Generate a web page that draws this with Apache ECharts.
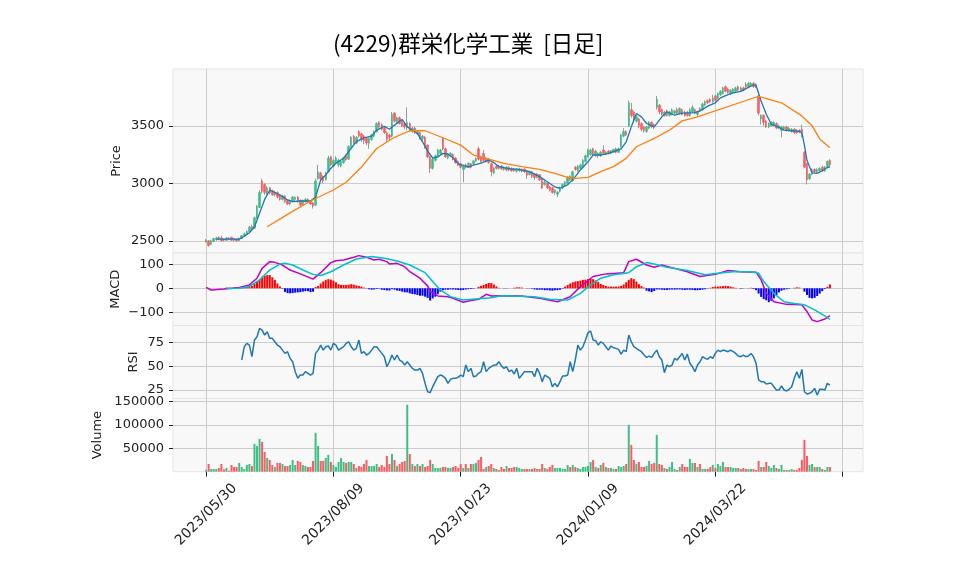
<!DOCTYPE html>
<html>
<head>
<meta charset="utf-8">
<title>(4229)群栄化学工業 [日足]</title>
<script src="https://cdn.jsdelivr.net/npm/echarts@6/dist/echarts.min.js"></script>
<style>
  html, body { margin: 0; padding: 0; background: #fff; }
  #main { width: 958px; height: 575px; }
</style>
</head>
<body>
<div id="main"></div>
<script>
// 日付ラベル (50営業日ごと)
var tickDates = ['2023/05/30', '2023/08/09', '2023/10/23', '2024/01/09', '2024/03/22'];

// 日足 [open, close, low, high]  index 0 = 2023/05/30
var candles = [
  [2490,2505,2485,2515],[2500,2460,2450,2505],[2470,2500,2465,2510],[2495,2520,2490,2525],[2510,2525,2500,2535],
  [2530,2515,2505,2540],[2525,2500,2495,2545],[2515,2505,2495,2520],[2505,2525,2500,2530],[2525,2515,2505,2530],
  [2530,2505,2500,2535],[2520,2505,2495,2525],[2515,2500,2490,2520],[2500,2520,2495,2530],[2520,2545,2515,2550],
  [2540,2560,2535,2570],[2555,2580,2550,2590],[2580,2620,2575,2630],[2625,2600,2590,2640],[2610,2700,2605,2710],
  [2700,2800,2690,2810],[2790,2920,2785,2940],[3020,2930,2910,3040],[2990,2920,2900,3000],[2910,2960,2900,2975],
  [2960,2920,2905,2970],[2935,2900,2890,2945],[2900,2925,2885,2935],[2920,2880,2870,2930],[2900,2860,2850,2905],
  [2860,2890,2850,2900],[2890,2840,2830,2895],[2850,2820,2810,2860],[2820,2850,2810,2860],[2840,2880,2835,2890],
  [2860,2880,2845,2885],[2880,2840,2830,2890],[2850,2810,2790,2860],[2815,2850,2810,2860],[2840,2860,2830,2870],
  [2860,2840,2830,2870],[2850,2820,2810,2855],[2830,2800,2780,2840],[2810,3020,2805,3040],[3040,3100,3030,3160],
  [3090,3040,3020,3100],[3060,3020,3000,3070],[3030,3090,3025,3100],[3100,3220,3095,3240],[3230,3160,3150,3240],
  [3150,3200,3140,3210],[3180,3220,3170,3235],[3160,3200,3140,3215],[3150,3190,3140,3200],[3180,3220,3170,3230],
  [3240,3205,3195,3250],[3210,3320,3205,3330],[3320,3400,3310,3410],[3410,3350,3340,3420],[3350,3400,3340,3410],
  [3450,3410,3400,3460],[3430,3380,3360,3440],[3410,3370,3340,3420],[3390,3350,3330,3400],[3350,3390,3300,3400],
  [3380,3420,3370,3430],[3410,3450,3400,3460],[3450,3520,3440,3530],[3530,3490,3480,3540],[3510,3470,3460,3520],
  [3480,3440,3430,3490],[3440,3380,3360,3450],[3420,3400,3370,3430],[3410,3600,3400,3620],[3610,3540,3530,3620],
  [3530,3570,3520,3580],[3570,3520,3510,3580],[3540,3500,3490,3550],[3520,3490,3470,3530],[3490,3530,3460,3660],
  [3520,3460,3450,3530],[3450,3480,3440,3490],[3480,3440,3430,3490],[3430,3450,3420,3460],[3440,3400,3380,3450],
  [3390,3410,3370,3420],[3400,3320,3300,3410],[3330,3230,3220,3340],[3230,3130,3090,3240],[3130,3210,3120,3220],
  [3200,3240,3190,3250],[3230,3290,3225,3300],[3260,3290,3250,3300],[3390,3300,3290,3400],[3300,3230,3220,3310],
  [3220,3250,3210,3260],[3240,3260,3230,3270],[3250,3210,3200,3260],[3220,3180,3170,3230],[3190,3160,3150,3200],
  [3170,3140,3130,3180],[3120,3150,3010,3160],[3160,3140,3130,3170],[3140,3175,3135,3180],[3170,3140,3130,3175],
  [3170,3195,3160,3200],[3195,3215,3185,3225],[3300,3210,3200,3320],[3230,3190,3180,3240],[3260,3200,3190,3290],
  [3190,3220,3180,3230],[3210,3180,3170,3220],[3170,3100,3060,3180],[3090,3130,3080,3140],[3150,3130,3120,3160],
  [3130,3150,3120,3160],[3150,3125,3115,3160],[3140,3120,3110,3145],[3115,3140,3105,3150],[3140,3115,3105,3145],
  [3130,3110,3100,3140],[3125,3110,3100,3135],[3105,3125,3095,3130],[3110,3125,3100,3135],[3105,3120,3095,3130],
  [3125,3100,3090,3130],[3110,3070,3040,3115],[3075,3100,3070,3110],[3100,3060,3045,3105],[3080,3050,3030,3090],
  [3050,3080,3045,3090],[3075,3030,3020,3080],[3040,2960,2950,3045],[2990,3010,2980,3020],[3000,2960,2950,3010],
  [2970,2940,2930,2980],[2960,2920,2910,2970],[2920,2940,2900,2950],[2905,2925,2880,2930],[2930,2960,2920,2970],
  [2960,2990,2950,3000],[2980,3010,2970,3020],[3000,3050,2995,3060],[3060,3030,3020,3070],[3020,3100,3015,3110],
  [3140,3120,3110,3150],[3110,3150,3100,3160],[3130,3160,3125,3170],[3140,3200,3135,3210],[3190,3240,3180,3250],
  [3230,3290,3225,3300],[3250,3290,3240,3300],[3300,3250,3240,3310],[3250,3280,3230,3290],[3260,3240,3220,3270],
  [3240,3270,3230,3280],[3290,3260,3250,3330],[3250,3270,3245,3280],[3280,3260,3250,3290],[3260,3285,3255,3290],
  [3270,3295,3265,3300],[3300,3270,3260,3310],[3270,3300,3265,3310],[3320,3420,3310,3430],[3410,3450,3400,3480],
  [3450,3420,3410,3460],[3500,3700,3490,3720],[3640,3590,3570,3700],[3620,3550,3530,3630],[3540,3580,3530,3590],
  [3560,3500,3480,3570],[3520,3470,3450,3530],[3490,3460,3440,3500],[3450,3490,3440,3500],[3480,3530,3470,3540],
  [3530,3490,3480,3540],[3510,3490,3470,3520],[3660,3730,3640,3760],[3680,3620,3600,3690],[3640,3600,3590,3650],
  [3590,3620,3580,3630],[3630,3590,3580,3640],[3590,3620,3580,3630],[3600,3640,3590,3650],[3610,3630,3600,3640],
  [3640,3610,3600,3660],[3610,3650,3600,3660],[3640,3600,3590,3650],[3620,3590,3580,3630],[3610,3590,3580,3630],
  [3590,3640,3580,3650],[3620,3660,3610,3680],[3640,3610,3600,3650],[3600,3625,3580,3630],[3650,3630,3620,3660],
  [3640,3690,3630,3700],[3680,3710,3670,3720],[3720,3700,3690,3730],[3730,3710,3700,3740],[3710,3740,3700,3770],
  [3760,3720,3710,3770],[3740,3780,3730,3790],[3770,3800,3760,3810],[3780,3830,3775,3840],[3840,3800,3790,3850],
  [3820,3790,3780,3830],[3780,3810,3770,3820],[3790,3820,3780,3830],[3800,3830,3790,3840],[3840,3810,3800,3850],
  [3810,3830,3800,3840],[3830,3810,3800,3840],[3860,3840,3830,3880],[3840,3870,3835,3880],[3850,3870,3845,3880],
  [3870,3840,3830,3880],[3860,3840,3830,3870],[3760,3610,3590,3770],[3560,3590,3510,3600],[3590,3530,3500,3600],
  [3540,3490,3480,3550],[3490,3520,3480,3530],[3500,3530,3490,3540],[3510,3530,3500,3540],[3520,3480,3470,3530],
  [3480,3500,3470,3510],[3460,3490,3400,3500],[3470,3490,3460,3500],[3490,3460,3450,3500],[3460,3480,3450,3490],
  [3450,3470,3440,3480],[3470,3440,3430,3480],[3460,3440,3430,3470],[3460,3445,3435,3470],[3470,3440,3400,3510],
  [3270,3140,3130,3280],[3170,3030,2990,3180],[3040,3080,3030,3090],[3080,3120,3070,3130],[3120,3100,3090,3130],
  [3100,3120,3090,3130],[3110,3130,3100,3140],[3140,3110,3100,3150],[3110,3140,3100,3150],[3140,3190,3130,3200],
  [3200,3160,3140,3210]
];

// 出来高
var volumes = [
  4000,16500,5800,5800,5800,7900,16500,5000,7900,2000,
  14400,10100,10100,18700,10100,5800,14400,16500,12200,59400,
  55100,70100,63700,42200,29400,25100,14400,10100,18700,18700,
  16500,12200,12200,14400,25100,14400,23000,20800,14400,12200,
  10100,10100,23000,83000,55100,23000,23000,29400,35800,20800,
  14400,10100,20800,29400,20800,18700,20800,20800,16500,7900,
  12200,10100,16500,25100,12200,12200,12200,16500,10100,14400,
  10100,33700,16500,37900,25100,12200,16500,20800,23000,143100,
  37900,16500,12200,16500,12200,16500,10100,12200,25100,16500,
  7900,7900,7900,10100,10100,7900,7900,10100,12200,7900,
  16500,7900,16500,7900,16500,16500,18700,25100,31500,5800,
  10100,12200,16500,7900,5800,3600,10100,5800,12200,7900,
  7900,10100,10100,7900,5800,5800,5800,5800,5800,7900,
  5800,5800,16500,7900,5800,10100,14400,7900,7900,7900,
  5800,5800,14400,10100,14400,10100,7900,5800,10100,10100,
  12200,20800,25100,10100,7900,14400,18700,10100,7900,7900,
  5800,5800,12200,10100,12200,16500,100200,57200,25100,16500,
  20800,10100,10100,12200,23000,16500,18700,78700,16500,14400,
  7900,5800,10100,20800,5800,3600,10100,16500,10100,10100,
  27300,18700,18700,10100,16500,5800,5800,5800,10100,14400,
  7900,16500,12200,20800,10100,10100,10100,7900,7900,7900,
  5800,7900,5800,5800,5800,5800,3600,23000,10100,10100,
  20800,12200,7900,14400,7900,5800,14400,3600,3600,3600,
  5800,3600,3600,7900,25100,68000,33700,14400,16500,10100,
  10100,10100,5800,3600,10100,10100
];

// 移動平均 [index, value]
var ma5 = [
  [4,2515],[9,2515],[13,2515],[15,2540],[17,2570],[19,2620],[21,2740],[23,2860],[25,2940],[27,2920],
  [29,2898],[32,2855],[34,2840],[37,2846],[41,2846],[43,2880],[45,3029],[47,3073],[49,3131],[51,3174],
  [54,3218],[57,3305],[59,3363],[62,3395],[65,3410],[67,3462],[70,3495],[72,3470],[74,3506],[77,3555],
  [79,3491],[81,3462],[83,3434],[85,3361],[87,3280],[89,3220],[91,3230],[93,3260],[95,3255],[97,3220],
  [99,3170],[101,3155],[103,3140],[105,3159],[108,3175],[111,3203],[113,3180],[115,3145],[117,3136],[120,3124],
  [122,3124],[125,3110],[127,3101],[131,3058],[134,3014],[137,2968],[139,2957],[142,2986],[145,3058],[147,3116],
  [150,3188],[152,3246],[155,3246],[158,3260],[160,3275],[163,3300],[165,3361],[167,3491],[169,3607],[171,3578],
  [173,3520],[176,3491],[179,3578],[181,3621],[184,3592],[187,3610],[192,3614],[194,3629],[197,3671],[200,3700],
  [202,3743],[205,3771],[207,3786],[210,3800],[213,3834],[215,3857],[216,3850],[218,3714],[220,3600],[222,3514],
  [225,3486],[227,3463],[230,3457],[233,3451],[234,3440],[235,3330],[236,3200],[237,3143],[238,3090],[240,3086],
  [242,3109],[244,3137],[245,3143]
];
var ma25 = [
  [24,2622],[32,2730],[41,2846],[50,2942],[55,3009],[61,3140],[67,3303],[74,3400],[80,3457],[86,3457],
  [93,3396],[100,3332],[105,3246],[111,3210],[117,3173],[124,3145],[131,3121],[137,3087],[141,3058],[145,3043],
  [150,3052],[155,3101],[160,3145],[165,3217],[169,3318],[176,3390],[182,3462],[187,3543],[193,3577],[217,3757],
  [226,3700],[234,3586],[238,3500],[241,3386],[245,3309]
];

// MACD [index, value]
var macdLine = [
  [0,4],[2,-7],[7,-3],[13,3],[17,14],[20,42],[22,83],[25,111],[27,108],[30,97],
  [33,76],[37,60],[42,38],[45,65],[49,107],[51,115],[54,118],[58,129],[60,136],[63,129],
  [66,118],[68,121],[71,111],[72,101],[75,104],[78,90],[80,69],[84,42],[87,10],[88,-14],
  [91,-32],[95,-35],[97,-42],[101,-58],[104,-51],[107,-46],[110,-25],[112,-32],[116,-31],[124,-32],
  [131,-42],[138,-56],[143,-35],[147,7],[152,49],[157,60],[164,65],[166,111],[169,121],[173,97],
  [176,88],[179,97],[184,83],[189,69],[194,49],[200,58],[205,74],[210,69],[216,67],[218,35],
  [220,-21],[223,-56],[228,-67],[234,-69],[236,-97],[238,-132],[240,-139],[243,-128],[245,-114]
];
var signalLine = [
  [8,-1],[13,0],[17,7],[21,35],[25,76],[29,101],[31,104],[34,97],[38,76],[42,58],
  [45,53],[49,69],[54,97],[59,122],[65,132],[70,125],[75,114],[80,97],[86,65],[89,28],
  [92,-7],[96,-35],[101,-49],[107,-44],[112,-39],[116,-31],[129,-35],[135,-46],[142,-49],[147,-21],
  [151,14],[155,42],[160,56],[166,65],[169,90],[173,107],[176,101],[181,88],[189,74],[196,56],
  [201,63],[207,69],[214,69],[217,63],[219,28],[223,-21],[227,-56],[231,-63],[235,-69],[239,-90],
  [243,-115],[245,-129]
];
// ヒストグラム index 8 から
var histStart = 8;
var macdHist = [
  3,2,1,1,2,3,4,5,6,8,
  10,20,28,35,48,52,55,55,46,35,
  20,8,-2,-15,-20,-21,-20,-18,-17,-16,
  -14,-12,-12,-16,-14,5,10,20,28,34,
  38,36,32,25,17,14,14,14,15,17,
  15,12,10,7,3,-1,-4,-6,-5,-3,
  -2,-6,-7,-9,-9,-4,-6,-9,-11,-14,
  -17,-17,-21,-24,-25,-28,-31,-31,-35,-40,
  -51,-42,-35,-25,-14,-8,-6,-6,-5,-5,
  -6,-7,-8,-7,-5,-4,-3,-2,0,6,
  10,14,18,22,22,16,8,2,0,-1,
  -1,0,0,2,4,4,3,0,-1,-1,
  -2,-5,-6,-6,-6,-8,-8,-9,-10,-8,
  -8,-6,-2,7,14,20,25,28,30,32,
  35,36,38,39,38,33,27,18,14,10,
  7,7,7,7,7,10,16,25,35,42,
  38,28,17,9,3,-10,-13,-16,-11,-5,
  -5,-6,-7,-7,-6,-5,-6,-5,-5,-6,
  -7,-6,-6,-7,-8,-8,-7,-6,-4,-1,
  2,5,7,7,8,9,10,9,7,4,
  2,0,-2,-1,0,1,2,-3,-8,-22,
  -36,-45,-50,-58,-52,-42,-28,-17,-10,-6,
  -4,-2,0,2,4,3,0,-14,-28,-40,
  -42,-40,-32,-22,-12,-3,6,16
];

// RSI index 14 から
var rsiStart = 14;
var rsi = [
  56.7,70.8,74.3,72.5,60.2,77.8,81.3,90.1,88.4,83.1,
  86.6,79.6,79.6,76,72.5,70.8,67.2,63.7,65.5,58.4,
  54.9,44.4,37.3,40.8,40.8,44.4,42.6,40.8,42.6,63.7,
  67.2,72.5,67.2,70.8,71.5,67.2,74.3,72.5,67.2,69.0,
  70.8,74.3,76.0,70.8,67.2,69.0,77.8,63.7,65.5,62.0,
  63.7,67.2,70.8,70.8,67.2,63.7,60.2,49.6,54.9,62.0,
  56.7,62.0,56.7,54.9,51.4,54.9,51.4,47.9,46.1,46.1,
  47.9,42.6,32.0,23.2,22.2,28.5,33.8,39.1,40.8,39.8,
  37.3,32.0,36.3,37.3,37.3,38.4,40.8,39.1,51.4,44.4,
  47.9,39.1,39.8,42.6,44.4,54.9,44.4,47.9,49.6,51.4,
  51.4,54.9,50.4,47.9,49.6,44.4,46.1,41.9,47.9,37.3,
  40.8,44.4,44.4,44.4,44.4,39.1,47.9,42.6,33.8,40.8,
  39.1,37.3,28.5,32.0,28.5,33.8,39.8,39.8,40.8,54.9,
  44.4,56.7,72.5,67.2,70.8,77.8,85.6,87.3,77.8,77.1,
  72.5,76.0,74.3,70.8,67.2,71.5,69.7,69.0,68.0,63.0,
  67.2,65.5,83.1,76.0,70.8,69.0,67.2,65.5,62.0,59.5,
  60.9,59.5,63.7,67.2,60.2,56.7,43.3,51.4,49.6,51.4,
  58.4,56.7,60.2,63.7,56.7,63.0,53.2,49.6,44.4,51.4,
  54.9,60.2,58.4,57.4,60.2,58.4,63.7,67.2,65.5,67.2,
  66.5,65.5,67.2,65.5,63.7,60.9,60.2,62.0,60.2,60.9,
  63.7,60.2,53.2,35.6,33.8,33.8,31.3,32.0,32.0,28.5,
  25.0,25.0,29.2,25.0,24.0,25.7,28.5,37.3,44.4,37.3,
  46.8,23.2,20.8,21.5,23.2,26.7,19.7,25.7,25.7,25.0,
  32.0,30.2
];

var UP = '#3dbf85', DOWN = '#ff5a62', WICK = '#9a9a9a';
var GRIDC = '#cccccc', TXT = '#222222';
var OFF = 13;           // 先頭の余白(日数)
var LAST = 258;         // x軸の右端
var cats = [];
for (var k = -OFF; k <= LAST; k++) cats.push(String(k));

var showTick = function (index) { return (index - OFF) % 50 === 0; };

var myChart = echarts.init(document.getElementById('main'));

var grids = [
  {top: 69, height: 184},
  {top: 253, height: 72.5},
  {top: 325.5, height: 73},
  {top: 398.5, height: 73.2}
];

var xAxes = grids.map(function (g, i) {
  var bottom = i === 3;
  return {
    type: 'category', gridIndex: i, data: cats, boundaryGap: false,
    axisLine: {show: false},
    axisTick: {show: bottom, interval: showTick, length: 5, lineStyle: {color: TXT}},
    axisLabel: {
      show: bottom, interval: showTick, rotate: 45, margin: 43,
      align: 'center', verticalAlign: 'middle',
      fontSize: 14, color: TXT, fontFamily: 'DejaVu Sans',
      formatter: function (v) {
        var n = Number(v);
        return (n % 50 === 0 && tickDates[n / 50]) ? tickDates[n / 50] : '';
      }
    },
    splitLine: {show: true, interval: showTick, lineStyle: {color: GRIDC}}
  };
});

function yAxis(i, name, min, max, ticks, gap, fmt) {
  return {
    type: 'value', gridIndex: i, min: min, max: max, position: 'left',
    name: name, nameLocation: 'middle', nameRotate: 90, nameGap: gap, nameMoveOverlap: false,
    nameTextStyle: {fontSize: 13, color: TXT, fontFamily: 'DejaVu Sans'},
    axisLine: {show: false},
    axisTick: {show: true, customValues: ticks, length: 4, lineStyle: {color: TXT}},
    axisLabel: {customValues: ticks, fontSize: 13, color: TXT, margin: 9, fontFamily: 'DejaVu Sans',
      formatter: fmt || function (v) { return String(v); }},
    splitLine: {show: true, lineStyle: {color: GRIDC}}
  };
}

var option = {
  animation: false,
  backgroundColor: '#ffffff',
  title: {
    text: '(4229)群栄化学工業  [日足]',
    left: 333, top: 32, padding: 0,
    textStyle: {fontFamily: 'Noto Sans CJK JP', fontSize: 22.5, fontWeight: 'normal', color: '#000'}
  },
  grid: grids.map(function (g) {
    return {left: 173, right: 95, top: g.top, height: g.height, show: true,
      backgroundColor: '#f8f8f8', borderColor: '#e4e4e4', borderWidth: 1};
  }),
  xAxis: xAxes,
  yAxis: [
    yAxis(0, 'Price', 2394, 3994, [2500, 3000, 3500], 50),
    yAxis(1, 'MACD', -155, 147, [-100, 0, 100], 51, function (v) { return String(v).replace('-', '\u2212'); }),
    yAxis(2, 'RSI', 16, 93.2, [25, 50, 75], 33),
    yAxis(3, 'Volume', 0, 156400, [50000, 100000, 150000], 69)
  ],
  series: [
    {
      name: 'wick', type: 'candlestick', xAxisIndex: 0, yAxisIndex: 0,
      encode: {x: 0, y: [1, 2, 3, 4]}, barWidth: 1,
      itemStyle: {color: WICK, color0: WICK, borderColor: WICK, borderColor0: WICK, borderWidth: 1},
      data: candles.map(function (c, i) { return [i + OFF, c[0], c[1], c[2], c[3]]; }),
      z: 1
    },
    {
      name: 'body', type: 'candlestick', xAxisIndex: 0, yAxisIndex: 0,
      encode: {x: 0, y: [1, 2, 3, 4]}, barWidth: 2,
      itemStyle: {color: UP, color0: DOWN, borderColor: UP, borderColor0: DOWN, borderWidth: 0.6},
      data: candles.map(function (c, i) {
        return [i + OFF, c[0], c[1], Math.min(c[0], c[1]), Math.max(c[0], c[1])];
      }),
      z: 2
    },
    {
      name: 'MA5', type: 'line', xAxisIndex: 0, yAxisIndex: 0, showSymbol: false, z: 3,
      lineStyle: {color: '#1f77b4', width: 1.3},
      data: ma5.map(function (p) { return [p[0] + OFF, p[1]]; })
    },
    {
      name: 'MA25', type: 'line', xAxisIndex: 0, yAxisIndex: 0, showSymbol: false, z: 3,
      lineStyle: {color: '#ff7f0e', width: 1.3},
      data: ma25.map(function (p) { return [p[0] + OFF, p[1]]; })
    },
    {
      name: 'hist', type: 'bar', xAxisIndex: 1, yAxisIndex: 1, barWidth: 2,
      data: macdHist.map(function (v, j) {
        return {value: [j + histStart + OFF, v], itemStyle: {color: v >= 0 ? '#ff0000' : '#0000ff'}};
      })
    },
    {
      name: 'MACD', type: 'line', xAxisIndex: 1, yAxisIndex: 1, showSymbol: false, z: 3,
      lineStyle: {color: '#c400c4', width: 1.5},
      data: macdLine.map(function (p) { return [p[0] + OFF, p[1]]; })
    },
    {
      name: 'Signal', type: 'line', xAxisIndex: 1, yAxisIndex: 1, showSymbol: false, z: 3,
      lineStyle: {color: '#00c0c8', width: 1.5},
      data: signalLine.map(function (p) { return [p[0] + OFF, p[1]]; })
    },
    {
      name: 'RSI', type: 'line', xAxisIndex: 2, yAxisIndex: 2, showSymbol: false,
      lineStyle: {color: '#1f77b4', width: 1.5},
      data: rsi.map(function (v, j) { return [j + rsiStart + OFF, v]; })
    },
    {
      name: 'Volume', type: 'bar', xAxisIndex: 3, yAxisIndex: 3, barWidth: 2,
      data: volumes.map(function (v, i) {
        var c = candles[i];
        return {value: [i + OFF, v], itemStyle: {color: c[1] >= c[0] ? UP : DOWN}};
      })
    }
  ]
};

myChart.setOption(option);
</script>
</body>
</html>
